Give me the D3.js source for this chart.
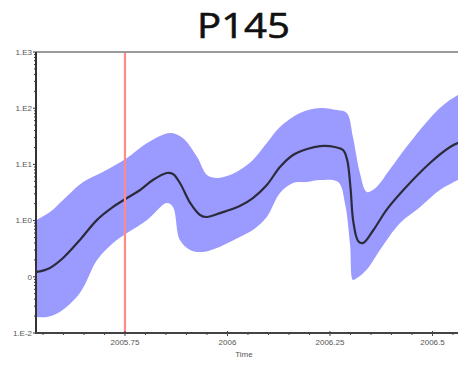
<!DOCTYPE html>
<html>
<head>
<meta charset="utf-8">
<script src="https://cdn.jsdelivr.net/npm/d3@7"></script>
<style>
  html, body { margin: 0; padding: 0; background: #fff; }
  svg { display: block; }
</style>
</head>
<body>
<svg id="chart" width="458" height="367"></svg>
<script>
// Central estimate through time
const meanTime = [2005.535, 2005.567, 2005.599, 2005.640, 2005.682, 2005.721, 2005.755, 2005.787, 2005.818, 2005.852,
  2005.867, 2005.884, 2005.909, 2005.933, 2005.950, 2005.982, 2006.030, 2006.062, 2006.096, 2006.128,
  2006.160, 2006.194, 2006.226, 2006.262, 2006.282, 2006.292, 2006.300, 2006.307, 2006.319, 2006.331,
  2006.356, 2006.388, 2006.429, 2006.494, 2006.543, 2006.562, 2006.582];
const meanValue = [0.122, 0.144, 0.216, 0.452, 1.03, 1.75, 2.52, 3.50, 5.27, 7.03,
  6.75, 4.67, 2.06, 1.26, 1.16, 1.36, 1.82, 2.52, 4.30, 9.0,
  14.7, 18.8, 21.2, 20.4, 18.0, 12.0, 3.9, 0.95, 0.43, 0.40,
  0.68, 1.55, 3.50, 10.6, 20.4, 24.0, 25.5];

// Upper edge of the uncertainty band
const upperTime = [2005.535, 2005.567, 2005.599, 2005.648, 2005.696, 2005.755, 2005.804, 2005.860, 2005.891, 2005.926,
  2005.950, 2005.974, 2006.006, 2006.030, 2006.062, 2006.096, 2006.128, 2006.177, 2006.226, 2006.267,
  2006.291, 2006.306, 2006.323, 2006.340, 2006.361, 2006.395, 2006.444, 2006.518, 2006.562, 2006.582];
const upperValue = [1.03, 1.42, 2.33, 4.86, 7.32, 13.0, 24.0, 36.2, 29.5, 13.5,
  6.48, 5.73, 6.48, 7.94, 12.0, 24.0, 46.2, 82.2, 101, 92.9,
  82.2, 30.7, 7.03, 3.23, 3.80, 7.94, 24.0, 101, 172, 200];

// Lower edge of the uncertainty band
const lowerTime = [2005.535, 2005.560, 2005.591, 2005.640, 2005.682, 2005.721, 2005.755, 2005.804, 2005.852, 2005.867,
  2005.884, 2005.909, 2005.940, 2005.974, 2006.006, 2006.030, 2006.062, 2006.096, 2006.128, 2006.160,
  2006.194, 2006.226, 2006.270, 2006.287, 2006.299, 2006.306, 2006.314, 2006.340, 2006.372, 2006.421,
  2006.470, 2006.518, 2006.562, 2006.582];
const lowerValue = [0.0193, 0.0193, 0.0237, 0.0515, 0.199, 0.40, 0.60, 1.03, 2.06, 1.75,
  0.452, 0.30, 0.276, 0.325, 0.416, 0.51, 0.68, 1.16, 3.10, 4.67,
  4.86, 5.27, 4.86, 1.95, 0.37, 0.088, 0.093, 0.135, 0.30, 0.906,
  1.75, 3.50, 5.27, 6.2];

// Marker time
const markerTime = 2005.75;

// Axis ticks and labels
const yTickValues = [1000, 100, 10, 1, 0.1, 0.01];
const yTickLabels = ["1.E3", "1.E2", "1.E1", "1.E0", "0", "1.E-2"];
const xTickValues = [2005.75, 2006, 2006.25, 2006.5];
const xTickLabels = ["2005.75", "2006", "2006.25", "2006.5"];
const xMinorTicks = [2005.55, 2005.6, 2005.65, 2005.7, 2005.8, 2005.85, 2005.9, 2005.95,
  2006.05, 2006.1, 2006.15, 2006.2, 2006.3, 2006.35, 2006.4, 2006.45, 2006.55];

const title = "P145";
const xTitle = "Time";

const svg = d3.select("#chart");
const plotLeft = 36, plotTop = 52, plotBottom = 333;
const x = d3.scaleLinear().domain([2005.533, 2006.6]).range([plotLeft, plotLeft + (2006.6 - 2005.533) * 410]);
const y = d3.scaleLog().domain([0.01, 1000]).range([plotBottom, plotTop]);

svg.append("defs").append("clipPath").attr("id", "plot")
  .append("rect").attr("x", plotLeft).attr("y", plotTop).attr("width", 458 - plotLeft).attr("height", plotBottom - plotTop);

const plot = svg.append("g").attr("clip-path", "url(#plot)");

// Band: upper edge forward, lower edge back
const upperPts = upperTime.map((t, i) => [x(t), y(upperValue[i])]);
const lowerPts = lowerTime.map((t, i) => [x(t), y(lowerValue[i])]).reverse();
const curve = d3.line().curve(d3.curveCatmullRom.alpha(0.5));
const upperPath = curve(upperPts);
const lowerPath = curve(lowerPts).replace(/^M/, "L");
plot.append("path")
  .attr("d", upperPath + lowerPath + "Z")
  .attr("fill", "#9b9bff");

plot.append("path")
  .attr("d", d3.line().x((t) => x(t)).y((t, i) => y(meanValue[i])).curve(d3.curveCatmullRom.alpha(0.5))(meanTime))
  .attr("fill", "none")
  .attr("stroke", "#2b2b3c")
  .attr("stroke-width", 2.2);

// Top frame
svg.append("line")
  .attr("x1", plotLeft).attr("x2", 458).attr("y1", plotTop).attr("y2", plotTop)
  .attr("stroke", "#9a9a9a").attr("stroke-width", 2);

// Marker line
svg.append("line")
  .attr("x1", x(markerTime)).attr("x2", x(markerTime))
  .attr("y1", plotTop + 1).attr("y2", plotBottom)
  .attr("stroke", "#ff8a8a").attr("stroke-width", 2.2);

// Y axis
const yAxis = svg.append("g").attr("transform", `translate(${plotLeft},0)`);
const yMinor = [];
for (let e = -2; e < 3; e++) for (let k = 2; k <= 9; k++) yMinor.push(k * Math.pow(10, e));
yAxis.selectAll("line.minor").data(yMinor).join("line")
  .attr("x1", -2).attr("x2", 0).attr("y1", (d) => y(d)).attr("y2", (d) => y(d))
  .attr("stroke", "#333").attr("stroke-width", 1);
yAxis.selectAll("line.major").data(yTickValues).join("line")
  .attr("x1", -3).attr("x2", 0).attr("y1", (d) => y(d)).attr("y2", (d) => y(d))
  .attr("stroke", "#333").attr("stroke-width", 1);
yAxis.selectAll("text").data(yTickValues).join("text")
  .attr("x", -4).attr("y", (d) => y(d)).attr("dy", "0.35em")
  .attr("text-anchor", "end")
  .attr("font-family", "Liberation Sans, Arial, sans-serif")
  .attr("font-size", 8).attr("fill", "#555")
  .text((d, i) => yTickLabels[i]);
yAxis.append("line").attr("x1", 0).attr("x2", 0).attr("y1", plotTop).attr("y2", plotBottom + 1)
  .attr("stroke", "#333").attr("stroke-width", 2);

// X axis
const xAxis = svg.append("g").attr("transform", `translate(0,${plotBottom})`);
xAxis.selectAll("line.minor").data(xMinorTicks).join("line")
  .attr("x1", (d) => x(d)).attr("x2", (d) => x(d)).attr("y1", -1).attr("y2", 2)
  .attr("stroke", "#444").attr("stroke-width", 1);
xAxis.selectAll("line.major").data(xTickValues).join("line")
  .attr("x1", (d) => x(d)).attr("x2", (d) => x(d)).attr("y1", -2).attr("y2", 3)
  .attr("stroke", "#444").attr("stroke-width", 1);
xAxis.append("line").attr("x1", plotLeft - 1).attr("x2", 458).attr("y1", 0).attr("y2", 0)
  .attr("stroke", "#444").attr("stroke-width", 2);
xAxis.selectAll("text").data(xTickValues).join("text")
  .attr("x", (d) => x(d)).attr("y", 12)
  .attr("text-anchor", "middle")
  .attr("font-family", "Liberation Sans, Arial, sans-serif")
  .attr("font-size", 8).attr("fill", "#555")
  .text((d, i) => xTickLabels[i]);

svg.append("text")
  .attr("x", 244).attr("y", 357)
  .attr("text-anchor", "middle")
  .attr("font-family", "Liberation Sans, Arial, sans-serif")
  .attr("font-size", 8).attr("fill", "#555")
  .text(xTitle);

svg.append("text")
  .attr("x", 197).attr("y", 38)
  .attr("textLength", 93).attr("lengthAdjust", "spacingAndGlyphs")
  .attr("font-family", "Open Sans, Noto Sans, sans-serif")
  .attr("font-size", 35).attr("fill", "#111")
  .attr("stroke", "#111").attr("stroke-width", 0.6)
  .text(title);
</script>
</body>
</html>
